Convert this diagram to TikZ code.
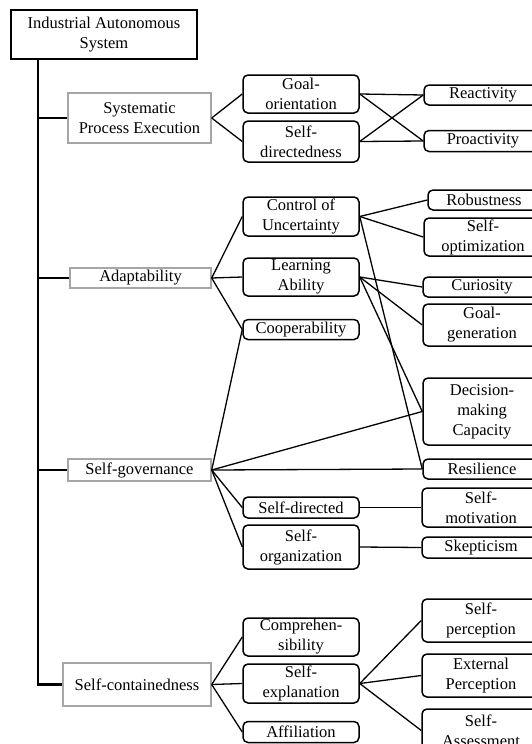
\documentclass[tikz,border=0pt]{standalone}
\usepackage{fontspec}
\setmainfont{Liberation Serif}
\begin{document}
\begin{tikzpicture}[x=1pt,y=-1pt,
  every node/.style={inner sep=0pt, align=center, font=\fontsize{16.5}{20}\selectfont},
  rootbox/.style={draw=black, line width=2.4pt},
  lvlone/.style={draw=black!35, line width=1.4pt},
  lvltwo/.style={draw=black, line width=1.5pt, rounded corners=5pt, minimum width=116pt},
  lvlthree/.style={draw=black, line width=1.5pt, rounded corners=5pt, minimum width=118pt},
  trunk/.style={line width=2.6pt, line join=miter},
  branch/.style={line width=2pt},
  link/.style={line width=1.3pt}]
\useasboundingbox (0,0) rectangle (531,744);

% root and first level
\node[rootbox, minimum width=186pt, minimum height=49pt] (root) at (104,34.5) {Industrial Autonomous\\System};
\node[lvlone, minimum width=143pt, minimum height=50pt] (spe) at (139.5,118) {Systematic\\Process Execution};
\node[lvlone, minimum width=141pt, minimum height=20pt] (ada) at (140.5,278) {Adaptability};
\node[lvlone, minimum width=143pt, minimum height=22pt] (sgov) at (139.5,470) {Self-governance};
\node[lvlone, minimum width=148pt, minimum height=43pt] (scon) at (137,684.5) {Self-containedness};

% second level
\node[lvltwo, minimum height=38pt] (gor) at (301,94) {Goal-\\orientation};
\node[lvltwo, minimum height=41pt] (sdn) at (301,141.5) {Self-\\directedness};
\node[lvltwo, minimum height=39pt] (cou) at (301,216.5) {Control of\\Uncertainty};
\node[lvltwo, minimum height=38pt] (lab) at (301,277) {Learning\\Ability};
\node[lvltwo, minimum height=20pt] (coop) at (301,329.5) {Cooperability};
\node[lvltwo, minimum height=21pt] (sdd) at (301,507.5) {Self-directed};
\node[lvltwo, minimum height=44pt] (sorg) at (301,547) {Self-\\organization};
\node[lvltwo, minimum height=38pt] (comp) at (301,637) {Comprehen-\\sibility};
\node[lvltwo, minimum height=39pt] (sexp) at (301,683.5) {Self-\\explanation};
\node[lvltwo, minimum height=21pt] (aff) at (301,732) {Affiliation};

% third level
\node[lvlthree, minimum height=20pt] (rea) at (483,95) {Reactivity};
\node[lvlthree, minimum height=21pt] (pro) at (483,141) {Proactivity};
\node[lvlthree, minimum width=112pt, minimum height=20pt] (rob) at (484,200) {Robustness};
\node[lvlthree, minimum height=38pt] (sopt) at (483,237) {Self-\\optimization};
\node[lvlthree, minimum height=20pt] (cur) at (482,287) {Curiosity};
\node[lvlthree, minimum height=42pt] (ggen) at (482,325) {Goal-\\generation};
\node[lvlthree, minimum height=67pt] (dmc) at (482,411.5) {Decision-\\making\\Capacity};
\node[lvlthree, minimum height=20pt] (res) at (482,469) {Resilience};
\node[lvlthree, minimum height=39pt] (smot) at (481,507.5) {Self-\\motivation};
\node[lvlthree, minimum height=21pt] (skep) at (481,547.5) {Skepticism};
\node[lvlthree, minimum height=43pt] (sper) at (481,620.5) {Self-\\perception};
\node[lvlthree, minimum height=43pt] (eper) at (481,675.5) {External\\Perception};
\node[lvlthree, minimum height=43pt] (sass) at (481,730.5) {Self-\\Assessment};

% trunk from the root down to the last branch
\coordinate (trunkx) at (38,0);
\draw[trunk] (root.south -| trunkx) |- (scon.west);
\draw[branch] (trunkx |- spe.west) -- (spe.west);
\draw[branch] (trunkx |- ada.west) -- (ada.west);
\draw[branch] (trunkx |- sgov.west) -- (sgov.west);

% systematic process execution
\draw[link] (spe.east) -- (gor.west);
\draw[link] (spe.east) -- (sdn.west);
\draw[link] (gor.east) -- (rea.west);
\draw[link] (gor.east) -- (pro.west);
\draw[link] (sdn.east) -- (rea.west);
\draw[link] (sdn.east) -- (pro.west);

% adaptability
\draw[link] (ada.east) -- (cou.west);
\draw[link] (ada.east) -- (lab.west);
\draw[link] (ada.east) -- (coop.west);
\draw[link] (cou.east) -- (rob.west);
\draw[link] (cou.east) -- (sopt.west);
\draw[link] (cou.east) -- (res.west);
\draw[link] (lab.east) -- (cur.west);
\draw[link] (lab.east) -- (ggen.west);
\draw[link] (lab.east) -- (dmc.west);

% self-governance
\draw[link] (sgov.east) -- (coop.west);
\draw[link] (sgov.east) -- (dmc.west);
\draw[link] (sgov.east) -- (res.west);
\draw[link] (sgov.east) -- (sdd.west);
\draw[link] (sgov.east) -- (sorg.west);
\draw[link] (sdd.east) -- (smot.west);
\draw[link] (sorg.east) -- (skep.west);

% self-containedness
\draw[link] (scon.east) -- (comp.west);
\draw[link] (scon.east) -- (sexp.west);
\draw[link] (scon.east) -- (aff.west);
\draw[link] (sexp.east) -- (sper.west);
\draw[link] (sexp.east) -- (eper.west);
\draw[link] (sexp.east) -- (sass.west);
\end{tikzpicture}
\end{document}
